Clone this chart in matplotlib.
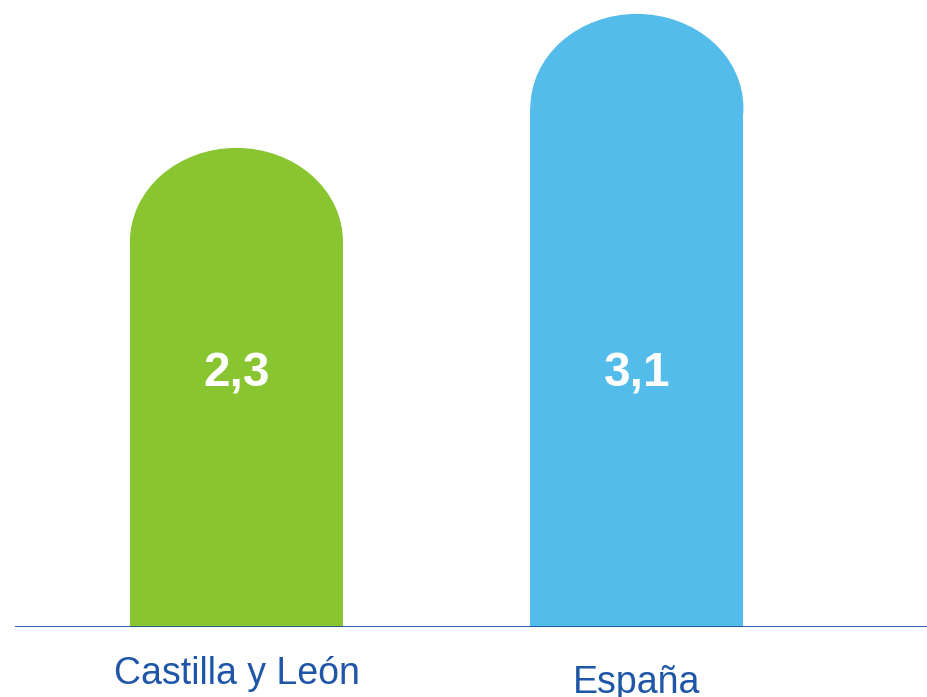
import matplotlib.pyplot as plt
from matplotlib.patches import Ellipse, Rectangle

plt.rcParams['font.family'] = ['Liberation Sans', 'DejaVu Sans']

categories = ["Castilla y León", "España"]
values = [2.3, 3.1]
value_labels = ["2,3", "3,1"]
colors = ["#88C530", "#53BCEB"]

fig = plt.figure(figsize=(9.28, 6.97), dpi=100)
ax = fig.add_axes([15 / 928, 70 / 697, 913 / 928, 627 / 697])
ax.set_xlim(-0.553, 1.727)
ax.set_ylim(0, 3.743)
ax.axis("off")

width = 0.532
cap = 0.56  # height of the rounded top, data units

for i, (v, c) in enumerate(zip(values, colors)):
    ax.add_patch(Rectangle((i - width / 2, -0.01), width, v + 0.01, color=c, lw=0))
    ax.add_patch(Ellipse((i, v), width, 2 * cap, color=c, lw=0))
    ax.text(i, 1.51, value_labels[i], ha="center", va="center",
            color="white", fontsize=34.5, fontweight="bold")

ax.axhline(0, color="#1A52A3", lw=2, zorder=5)

label_y = [674, 683]
for i, name in enumerate(categories):
    fig.text((15 + (i + 0.553) * 400.5) / 928, 1 - label_y[i] / 697, name,
             ha="center", va="center", color="#1F56A8", fontsize=27)

fig.savefig("out.png", dpi=100)
